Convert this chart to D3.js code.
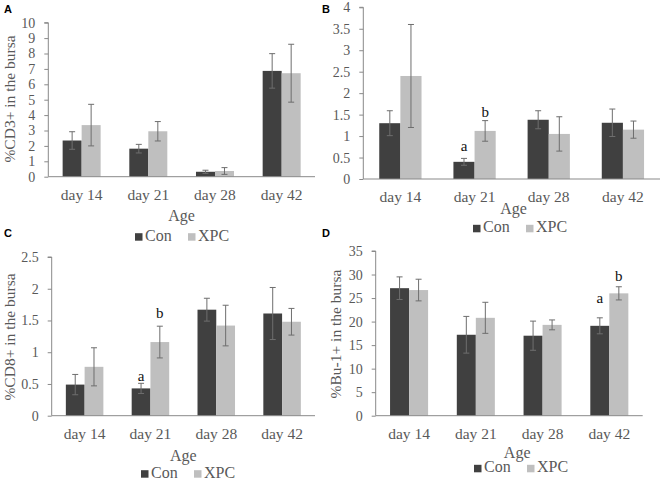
<!DOCTYPE html>
<html>
<head>
<meta charset="utf-8">
<script src="https://cdn.jsdelivr.net/npm/d3@7"></script>
<style>
  body { margin: 0; background: #fff; }
  text { font-family: "Liberation Serif", "Times New Roman", serif; }
  text.tag { font-family: "Liberation Sans", Arial, sans-serif; font-weight: bold; }
</style>
</head>
<body>
<svg id="fig" width="661" height="485"></svg>
<script>
const ages = ['day 14', 'day 21', 'day 28', 'day 42'];
const groups = ['Con', 'XPC'];

// panel A - CD3+
const cd3Con = [2.35, 1.82, 0.32, 6.87];
const cd3ConErr = [0.57, 0.28, 0.10, 1.12];
const cd3Xpc = [3.35, 2.95, 0.37, 6.72];
const cd3XpcErr = [1.35, 0.63, 0.22, 1.88];
const cd3Ticks = [0, 1, 2, 3, 4, 5, 6, 7, 8, 9, 10];

// panel B
const bCon = [1.30, 0.40, 1.38, 1.31];
const bConErr = [0.29, 0.08, 0.21, 0.32];
const bXpc = [2.40, 1.12, 1.05, 1.15];
const bXpcErr = [1.20, 0.24, 0.40, 0.20];
const bTicks = [0, 0.5, 1, 1.5, 2, 2.5, 3, 3.5, 4];
const bLetters = [['day 21', 'Con', 0.66, 'a'], ['day 21', 'XPC', 1.45, 'b']];

// panel C - CD8+
const cd8Con = [0.49, 0.43, 1.67, 1.61];
const cd8ConErr = [0.16, 0.08, 0.18, 0.41];
const cd8Xpc = [0.77, 1.16, 1.42, 1.48];
const cd8XpcErr = [0.30, 0.25, 0.32, 0.21];
const cd8Ticks = [0, 0.5, 1, 1.5, 2, 2.5];
const cd8Letters = [['day 21', 'Con', 0.54, 'a'], ['day 21', 'XPC', 1.54, 'b']];

// panel D - Bu-1+
const buCon = [27.1, 17.2, 17.0, 19.1];
const buConErr = [2.4, 3.9, 3.1, 1.7];
const buXpc = [26.7, 20.8, 19.3, 26.0];
const buXpcErr = [2.3, 3.3, 1.05, 1.4];
const buTicks = [0, 5, 10, 15, 20, 25, 30, 35];
const buLetters = [['day 42', 'Con', 23.9, 'a'], ['day 42', 'XPC', 28.7, 'b']];

const colors = { Con: '#404040', XPC: '#bfbfbf' };
const svg = d3.select('#fig');

const panels = [
  { tag: 'A', con: cd3Con, conErr: cd3ConErr, xpc: cd3Xpc, xpcErr: cd3XpcErr, ticks: cd3Ticks, letters: [],
    title: '%CD3+ in the bursa', x0: 48.3, x1: 315, y0: 176.7, yTop: 22.7,
    tagPos: [4, 12.7], titleX: 15, titleY: 99, ageY: 221, legY: 240.7, legX: 180 },
  { tag: 'B', con: bCon, conErr: bConErr, xpc: bXpc, xpcErr: bXpcErr, ticks: bTicks, letters: bLetters,
    title: null, x0: 363.3, x1: 660, y0: 179, yTop: 7.3,
    tagPos: [322, 12.7], ageY: 214, ageDx: 2, legY: 232.3, legX: 518 },
  { tag: 'C', con: cd8Con, conErr: cd8ConErr, xpc: cd8Xpc, xpcErr: cd8XpcErr, ticks: cd8Ticks, letters: cd8Letters,
    title: '%CD8+ in the bursa', x0: 51.7, x1: 315, y0: 415.7, yTop: 257,
    tagPos: [4, 237.3], titleX: 15, titleY: 337, ageY: 461, legY: 477.7, legX: 186 },
  { tag: 'D', con: buCon, conErr: buConErr, xpc: buXpc, xpcErr: buXpcErr, ticks: buTicks, letters: buLetters,
    title: '%Bu-1+ in the bursa', x0: 375.7, x1: 642.7, y0: 415.7, yTop: 251,
    tagPos: [322, 237.3], titleX: 341, titleY: 334, ageY: 458, ageDx: 8, legY: 472.3, legX: 519 }
];

panels.forEach((p) => {
  const g = svg.append('g');
  const yMax = p.ticks[p.ticks.length - 1];

  const x = d3.scaleBand().domain(ages).range([p.x0, p.x1])
    .paddingInner(0.43).paddingOuter(0.215);
  const xs = d3.scaleBand().domain(groups).range([0, x.bandwidth()]);
  const y = d3.scaleLinear().domain([0, yMax]).range([p.y0, p.yTop]);

  const rows = [];
  ages.forEach((a, i) => {
    rows.push({ age: a, grp: 'Con', v: p.con[i], e: p.conErr[i] });
    rows.push({ age: a, grp: 'XPC', v: p.xpc[i], e: p.xpcErr[i] });
  });

  // y axis
  const yAxis = g.append('g')
    .attr('transform', `translate(${p.x0},0)`)
    .call(d3.axisLeft(y).tickValues(p.ticks).tickFormat((d) => String(d)).tickSize(4).tickPadding(9));
  yAxis.selectAll('path, line').attr('stroke', '#898989');
  yAxis.select('.domain').attr('d', `M-4,${p.yTop}H0V${p.y0}`);
  yAxis.selectAll('text').style('font-family', '"Liberation Serif", serif')
    .attr('font-size', 14).attr('fill', '#595959');

  // bars
  g.selectAll('rect.bar').data(rows).enter().append('rect')
    .attr('x', (d) => x(d.age) + xs(d.grp))
    .attr('y', (d) => y(d.v))
    .attr('width', xs.bandwidth())
    .attr('height', (d) => y(0) - y(d.v))
    .attr('fill', (d) => colors[d.grp]);

  // error bars
  const eb = g.selectAll('g.err').data(rows).enter().append('g')
    .attr('transform', (d) => `translate(${x(d.age) + xs(d.grp) + xs.bandwidth() / 2},0)`)
    .attr('stroke', '#6e6e6e').attr('stroke-width', 1);
  eb.append('line').attr('y1', (d) => y(d.v - d.e)).attr('y2', (d) => y(d.v + d.e));
  eb.append('line').attr('x1', -3).attr('x2', 3).attr('y1', (d) => y(d.v + d.e)).attr('y2', (d) => y(d.v + d.e));
  eb.append('line').attr('x1', -3).attr('x2', 3).attr('y1', (d) => y(d.v - d.e)).attr('y2', (d) => y(d.v - d.e));

  // x axis baseline + labels
  g.append('line').attr('x1', p.x0).attr('x2', p.x1).attr('y1', y(0)).attr('y2', y(0))
    .attr('stroke', '#898989');
  g.selectAll('text.xl').data(ages).enter().append('text')
    .attr('x', (d) => x(d) + x.bandwidth() / 2).attr('y', y(0) + 23)
    .attr('text-anchor', 'middle').attr('font-size', 15.5).attr('fill', '#595959')
    .text((d) => d);

  // significance letters
  g.selectAll('text.sig').data(p.letters).enter().append('text')
    .attr('x', (d) => x(d[0]) + xs(d[1]) + xs.bandwidth() / 2)
    .attr('y', (d) => y(d[2]))
    .attr('text-anchor', 'middle').attr('font-size', 15).attr('fill', '#111')
    .text((d) => d[3]);

  // axis titles
  const mid = (p.x0 + p.x1) / 2;
  g.append('text').attr('x', mid + (p.ageDx || 0)).attr('y', p.ageY)
    .attr('text-anchor', 'middle').attr('font-size', 16).attr('fill', '#595959').text('Age');

  if (p.title) {
    g.append('text')
      .attr('transform', `translate(${p.titleX},${p.titleY}) rotate(-90)`)
      .attr('text-anchor', 'middle').attr('font-size', 15.5).attr('fill', '#595959')
      .text(p.title);
  }

  // legend
  const leg = g.append('g').attr('transform', `translate(${p.legX - 45},${p.legY})`);
  groups.forEach((k, i) => {
    const lx = i * 53;
    leg.append('rect').attr('x', lx).attr('y', -7.5).attr('width', 7.5).attr('height', 7.5).attr('fill', colors[k]);
    leg.append('text').attr('x', lx + 10).attr('y', 0).attr('font-size', 16).attr('fill', '#595959').text(k);
  });

  // panel tag
  g.append('text').attr('class', 'tag').attr('x', p.tagPos[0]).attr('y', p.tagPos[1])
    .attr('font-size', 11).attr('fill', '#000').text(p.tag);
});
</script>
</body>
</html>
